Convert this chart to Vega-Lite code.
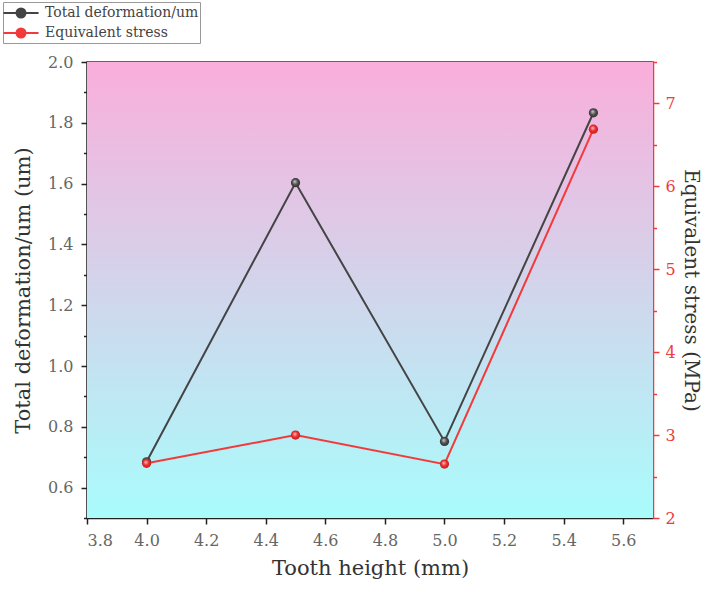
{
  "$schema": "https://vega.github.io/schema/vega-lite/v6.json",
  "autosize": {"type": "none"},
  "width": 566,
  "height": 456,
  "padding": {"left": 87, "top": 62, "right": 55, "bottom": 73},
  "background": "white",
  "config": {
    "font": "DejaVu Serif",
    "view": {"stroke": "#333", "strokeWidth": 1.5},
    "axis": {
      "labelFont": "DejaVu Serif",
      "titleFont": "DejaVu Serif",
      "labelFontSize": 16,
      "titleFontSize": 21,
      "titleFontWeight": "normal",
      "labelColor": "#666",
      "titleColor": "#333",
      "grid": false,
      "domainWidth": 1.5,
      "tickWidth": 1.5
    }
  },
  "data": {
    "values": [
      {"h": 4.0, "deform": 0.685, "stress": 2.66},
      {"h": 4.5, "deform": 1.603, "stress": 3.0},
      {"h": 5.0, "deform": 0.752, "stress": 2.65},
      {"h": 5.5, "deform": 1.833, "stress": 6.69}
    ]
  },
  "layer": [
    {
      "data": {"values": [{"bg": 1}]},
      "mark": {
        "type": "rect",
        "color": {
          "gradient": "linear",
          "x1": 0, "y1": 0, "x2": 0, "y2": 1,
          "stops": [
            {"offset": 0, "color": "#FAAEDB"},
            {"offset": 1, "color": "#A9FCFC"}
          ]
        }
      },
      "encoding": {}
    },
    {
      "encoding": {
        "x": {
          "field": "h", "type": "quantitative",
          "scale": {"domain": [3.8, 5.7], "nice": false, "zero": false},
          "axis": {
            "title": "Tooth height (mm)",
            "values": [3.8, 3.9, 4.0, 4.1, 4.2, 4.3, 4.4, 4.5, 4.6, 4.7, 4.8, 4.9, 5.0, 5.1, 5.2, 5.3, 5.4, 5.5, 5.6, 5.7],
            "labelExpr": "round(datum.value * 10) % 2 == 0 ? format(datum.value, '.1f') : ''",
            "tickSize": {"condition": {"test": "round(datum.value * 10) % 2 == 0", "value": 6}, "value": 3.5},
            "domainColor": "#222",
            "tickColor": "#222",
            "labelPadding": 8,
            "titlePadding": 9
          }
        },
        "y": {
          "field": "deform", "type": "quantitative",
          "scale": {"domain": [0.5, 2.0], "nice": false, "zero": false},
          "axis": {
            "title": "Total deformation/um (um)",
            "values": [0.5, 0.6, 0.7, 0.8, 0.9, 1.0, 1.1, 1.2, 1.3, 1.4, 1.5, 1.6, 1.7, 1.8, 1.9, 2.0],
            "labelExpr": "round(datum.value * 10) % 2 == 0 ? format(datum.value, '.1f') : ''",
            "tickSize": {"condition": {"test": "round(datum.value * 10) % 2 == 0", "value": 6}, "value": 3.5},
            "domainColor": "#222",
            "tickColor": "#222",
            "labelPadding": 8,
            "titlePadding": 14
          }
        },
        "color": {
          "datum": "Total deformation/um",
          "type": "nominal",
          "scale": {
            "domain": ["Total deformation/um", "Equivalent stress"],
            "range": ["#444444", "#F23A3A"]
          },
          "legend": {
            "title": null,
            "orient": "none",
            "legendX": -84,
            "legendY": -60,
            "direction": "vertical",
            "strokeColor": "#999",
            "fillColor": "white",
            "padding": 1,
            "labelFont": "DejaVu Serif",
            "labelFontSize": 14,
            "labelColor": "#444",
            "rowPadding": 1,
            "symbolOffset": 7,
            "labelOffset": 14,
            "symbolType": "M-1.95,0H1.95M-0.5,0A0.5,0.5 0 1,0 0.5,0A0.5,0.5 0 1,0 -0.5,0",
            "symbolSize": 324,
            "symbolStrokeWidth": 2
          }
        }
      },
      "layer": [
        {"mark": {"type": "line", "strokeWidth": 2}},
        {
          "mark": {
            "type": "point", "filled": true, "size": 85, "opacity": 1, "strokeWidth": 0,
            "fill": {
              "gradient": "radial",
              "x1": 0.4, "y1": 0.35, "r1": 0,
              "x2": 0.5, "y2": 0.5, "r2": 0.55,
              "stops": [
                {"offset": 0, "color": "#d8d8d8"},
                {"offset": 0.5, "color": "#555"},
                {"offset": 1, "color": "#2a2a2a"}
              ]
            }
          }
        }
      ]
    },
    {
      "encoding": {
        "x": {"field": "h", "type": "quantitative"},
        "y": {
          "field": "stress", "type": "quantitative",
          "scale": {"domain": [2, 7.5], "nice": false, "zero": false},
          "axis": {
            "orient": "right",
            "title": "Equivalent stress (MPa)",
            "titleFontSize": 20,
            "values": [2, 2.5, 3, 3.5, 4, 4.5, 5, 5.5, 6, 6.5, 7, 7.5],
            "labelExpr": "datum.value == round(datum.value) ? format(datum.value, 'd') : ''",
            "tickSize": {"condition": {"test": "datum.value == round(datum.value)", "value": 6}, "value": 3.5},
            "domainColor": "#F23A3A",
            "tickColor": "#F23A3A",
            "labelColor": "#F23A3A",
            "labelPadding": 6,
            "titlePadding": 5
          }
        },
        "color": {"datum": "Equivalent stress", "type": "nominal"}
      },
      "layer": [
        {"mark": {"type": "line", "strokeWidth": 2}},
        {
          "mark": {
            "type": "point", "filled": true, "size": 85, "opacity": 1, "strokeWidth": 0,
            "fill": {
              "gradient": "radial",
              "x1": 0.4, "y1": 0.35, "r1": 0,
              "x2": 0.5, "y2": 0.5, "r2": 0.55,
              "stops": [
                {"offset": 0, "color": "#ffd0d0"},
                {"offset": 0.5, "color": "#f03030"},
                {"offset": 1, "color": "#c01818"}
              ]
            }
          }
        }
      ]
    }
  ],
  "resolve": {"scale": {"y": "independent"}}
}
